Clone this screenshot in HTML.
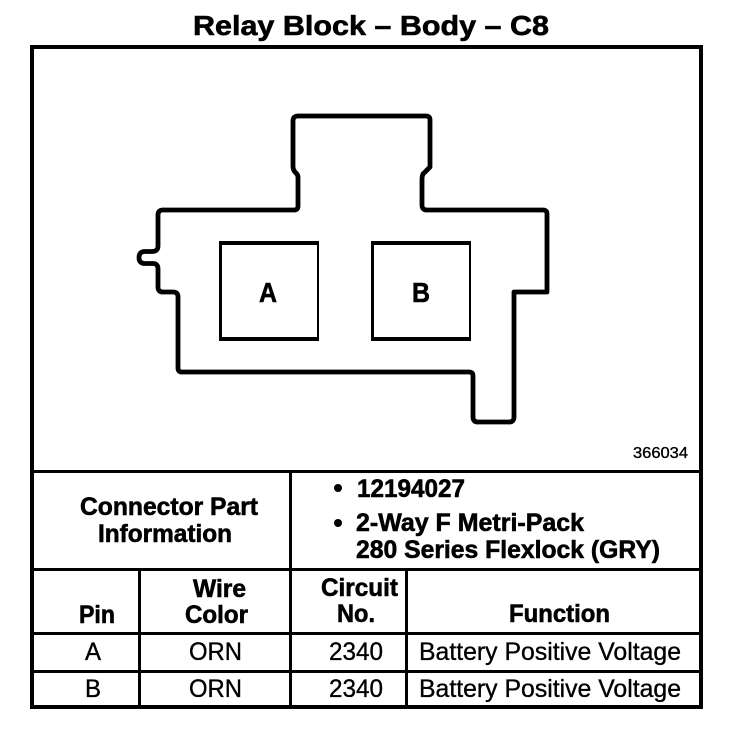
<!DOCTYPE html>
<html>
<head>
<meta charset="utf-8">
<style>
html,body{margin:0;padding:0;background:#fff;width:752px;height:730px;overflow:hidden}
svg{display:block}
text{font-family:"Liberation Sans",sans-serif;fill:#000;stroke:#000;stroke-width:.35}
.b{font-weight:bold;stroke-width:.6}
</style>
</head>
<body>
<svg width="752" height="730" viewBox="0 0 752 730" xmlns="http://www.w3.org/2000/svg">
<rect width="752" height="730" fill="#fff"/>
<g shape-rendering="crispEdges">
<rect x="30" y="45" width="673" height="4" fill="#000"/>
<rect x="30" y="705" width="673" height="4" fill="#000"/>
<rect x="30" y="45" width="4" height="664" fill="#000"/>
<rect x="699" y="45" width="4" height="664" fill="#000"/>
<rect x="30" y="470" width="673" height="3" fill="#000"/>
<rect x="30" y="568" width="673" height="3" fill="#000"/>
<rect x="30" y="632" width="673" height="3" fill="#000"/>
<rect x="30" y="670" width="673" height="3" fill="#000"/>
<rect x="289" y="470" width="3" height="238" fill="#000"/>
<rect x="138" y="569" width="3" height="138" fill="#000"/>
<rect x="405" y="569" width="3" height="138" fill="#000"/>
<rect x="219" y="241" width="100" height="100" fill="#000"/>
<rect x="222" y="245" width="95" height="92" fill="#fff"/>
<rect x="371" y="241" width="100" height="100" fill="#000"/>
<rect x="374" y="245" width="95" height="92" fill="#fff"/>
</g>
<path d="M298 116H426Q430 116 430 120V167L423 174Q422 176 422 179V205Q422 210 427 210H543Q547 210 547 214V292H514V417Q514 422 509 422H478Q473 422 473 417V376Q473 372 469 372H182Q178 372 178 368V297Q178 292 173 292H163Q158 292 158 287V269Q158 263.500 153 263.500H145Q139 263.500 139 257.500Q139 251.500 145 251.500H152Q158 251.500 158 246V215Q158 210 163 210H294Q298 210 298 206V177Q298 175 296 173L295 172Q293 170 293 166V121Q293 116 298 116Z" fill="none" stroke="#000" stroke-width="4.800" stroke-linejoin="round"/>

<text class="b" x="193" y="35" font-size="28" textLength="356" lengthAdjust="spacingAndGlyphs">Relay Block – Body – C8</text>
<text class="b" x="259" y="302" font-size="28" textLength="18" lengthAdjust="spacingAndGlyphs">A</text>
<text class="b" x="412" y="302" font-size="28" textLength="18" lengthAdjust="spacingAndGlyphs">B</text>
<text x="633" y="458" font-size="16" textLength="55" lengthAdjust="spacingAndGlyphs">366034</text>

<text class="b" x="80" y="515" font-size="25" textLength="178" lengthAdjust="spacingAndGlyphs">Connector Part</text>
<text class="b" x="98" y="542" font-size="25" textLength="134" lengthAdjust="spacingAndGlyphs">Information</text>

<circle cx="338" cy="488" r="4" fill="#000"/>
<circle cx="338" cy="523" r="4" fill="#000"/>
<text class="b" x="357" y="497" font-size="25" textLength="108" lengthAdjust="spacingAndGlyphs">12194027</text>
<text class="b" x="356" y="531" font-size="25" textLength="228" lengthAdjust="spacingAndGlyphs">2-Way F Metri-Pack</text>
<text class="b" x="356" y="558" font-size="25" textLength="304" lengthAdjust="spacingAndGlyphs">280 Series Flexlock (GRY)</text>

<text class="b" x="79" y="623" font-size="25" textLength="36" lengthAdjust="spacingAndGlyphs">Pin</text>
<text class="b" x="193" y="597" font-size="25" textLength="53" lengthAdjust="spacingAndGlyphs">Wire</text>
<text class="b" x="185" y="623" font-size="25" textLength="63" lengthAdjust="spacingAndGlyphs">Color</text>
<text class="b" x="321" y="596" font-size="25" textLength="77" lengthAdjust="spacingAndGlyphs">Circuit</text>
<text class="b" x="337" y="622" font-size="25" textLength="38" lengthAdjust="spacingAndGlyphs">No.</text>
<text class="b" x="509" y="622" font-size="25" textLength="101" lengthAdjust="spacingAndGlyphs">Function</text>

<text x="85" y="660" font-size="25" textLength="16" lengthAdjust="spacingAndGlyphs">A</text>
<text x="189" y="660" font-size="25" textLength="53" lengthAdjust="spacingAndGlyphs">ORN</text>
<text x="329" y="660" font-size="25" textLength="54" lengthAdjust="spacingAndGlyphs">2340</text>
<text x="419" y="660" font-size="25" textLength="262" lengthAdjust="spacingAndGlyphs">Battery Positive Voltage</text>

<text x="85" y="697" font-size="25" textLength="16" lengthAdjust="spacingAndGlyphs">B</text>
<text x="189" y="697" font-size="25" textLength="53" lengthAdjust="spacingAndGlyphs">ORN</text>
<text x="329" y="697" font-size="25" textLength="54" lengthAdjust="spacingAndGlyphs">2340</text>
<text x="419" y="697" font-size="25" textLength="262" lengthAdjust="spacingAndGlyphs">Battery Positive Voltage</text>
</svg>
</body>
</html>
